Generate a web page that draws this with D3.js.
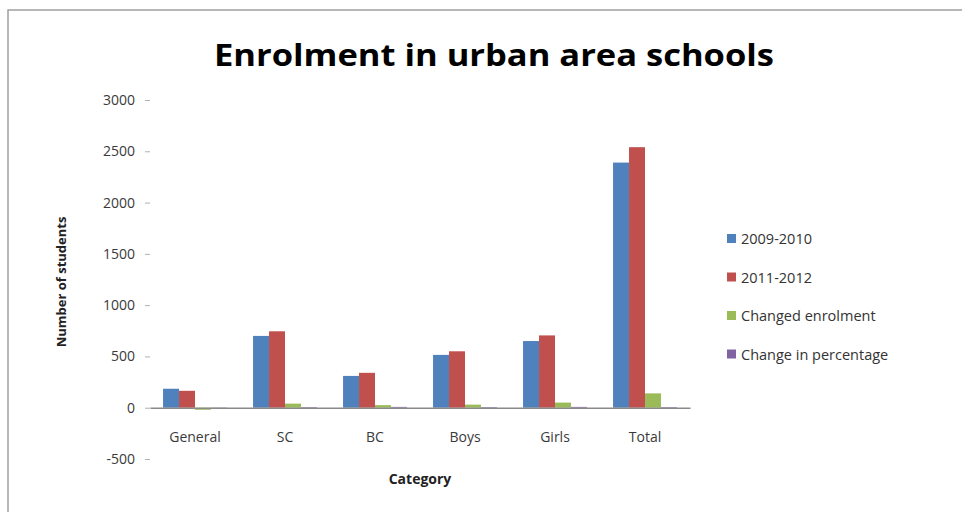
<!DOCTYPE html>
<html>
<head>
<meta charset="utf-8">
<script src="https://cdn.jsdelivr.net/npm/d3@7"></script>
<style>
  body { margin: 0; background: #fff; }
  svg { display: block; font-family: "Open Sans", "Liberation Sans", sans-serif; }
</style>
</head>
<body>
<svg id="chart" width="962" height="512"></svg>
<script>
// chart data
const categories = ["General", "SC", "BC", "Boys", "Girls", "Total"];
const seriesNames = ["2009-2010", "2011-2012", "Changed enrolment", "Change in percentage"];
const enrol2009 = [185, 700, 310, 515, 650, 2390];
const enrol2011 = [165, 745, 340, 550, 705, 2540];
const changed = [-20, 40, 25, 30, 50, 140];
const changePct = [-10, 6, 8, 6, 8, 6];
const yTicks = [-500, 0, 500, 1000, 1500, 2000, 2500, 3000];
const colors = ["#4f81bd", "#c0504d", "#9bbb59", "#8064a2"];

const seriesValues = [enrol2009, enrol2011, changed, changePct];

const svg = d3.select("#chart");

// outer frame
svg.append("rect")
  .attr("x", 8).attr("y", 10)
  .attr("width", 970).attr("height", 520)
  .attr("fill", "none")
  .attr("stroke", "#a0a0a0")
  .attr("stroke-width", 1.5);

// title
svg.append("text")
  .attr("x", 494).attr("y", 66)
  .attr("text-anchor", "middle")
  .attr("font-size", 30)
  .attr("font-weight", "bold")
  .attr("textLength", 560)
  .attr("lengthAdjust", "spacingAndGlyphs")
  .attr("fill", "#000")
  .text("Enrolment in urban area schools");

// scales
const x0 = d3.scaleBand()
  .domain(categories)
  .range([150, 690])
  .paddingInner(0.29)
  .paddingOuter(0.145);

const x1 = d3.scaleBand()
  .domain(seriesNames)
  .range([0, x0.bandwidth()]);

const y = d3.scaleLinear()
  .domain([-500, 3000])
  .range([459, 100]);

// y axis: labels and small ticks, no line
const yAxis = svg.append("g")
  .attr("transform", "translate(150,0)")
  .call(d3.axisLeft(y).tickValues(yTicks).tickFormat(d => String(d)).tickSize(5).tickPadding(10));
yAxis.select(".domain").remove();
yAxis.selectAll(".tick line").attr("stroke", "#b0b0b0");
yAxis.selectAll(".tick text")
  .attr("font-size", 14)
  .attr("fill", "#3a3a3a")
  .attr("font-family", "\"Open Sans\", sans-serif");

// bars
const groups = svg.append("g").selectAll("g")
  .data(categories)
  .join("g")
  .attr("transform", d => `translate(${x0(d)},0)`);

groups.selectAll("rect")
  .data((c, i) => seriesNames.map((s, j) => ({ s, v: seriesValues[j][i], j })))
  .join("rect")
  .attr("x", d => x1(d.s))
  .attr("width", x1.bandwidth())
  .attr("y", d => y(Math.max(0, d.v)))
  .attr("height", d => Math.abs(y(d.v) - y(0)))
  .attr("fill", d => colors[d.j]);

// x axis line at zero
const xAxis = svg.append("g")
  .attr("transform", `translate(0,${y(0)})`)
  .call(d3.axisBottom(x0).tickSize(0).tickPadding(24));
xAxis.select(".domain").attr("stroke", "#8a8a8a").attr("stroke-width", 1.5);
xAxis.selectAll(".tick text")
  .attr("font-size", 14)
  .attr("fill", "#3a3a3a")
  .attr("font-family", "\"Open Sans\", sans-serif");

// axis titles
svg.append("text")
  .attr("x", 420).attr("y", 484)
  .attr("text-anchor", "middle")
  .attr("font-size", 14)
  .attr("font-weight", "bold")
  .attr("fill", "#222")
  .text("Category");

svg.append("text")
  .attr("transform", "translate(66,282) rotate(-90)")
  .attr("text-anchor", "middle")
  .attr("font-size", 13)
  .attr("font-weight", "bold")
  .attr("fill", "#222")
  .text("Number of students");

// legend
const legend = svg.append("g").selectAll("g")
  .data(seriesNames)
  .join("g")
  .attr("transform", (d, i) => `translate(727,${239 + i * 38.5})`);

legend.append("rect")
  .attr("x", 0).attr("y", -5)
  .attr("width", 9).attr("height", 9)
  .attr("fill", (d, i) => colors[i]);

legend.append("text")
  .attr("x", 14).attr("y", 5)
  .attr("font-size", 14.5)
  .attr("fill", "#333")
  .text(d => d);
</script>
</body>
</html>
